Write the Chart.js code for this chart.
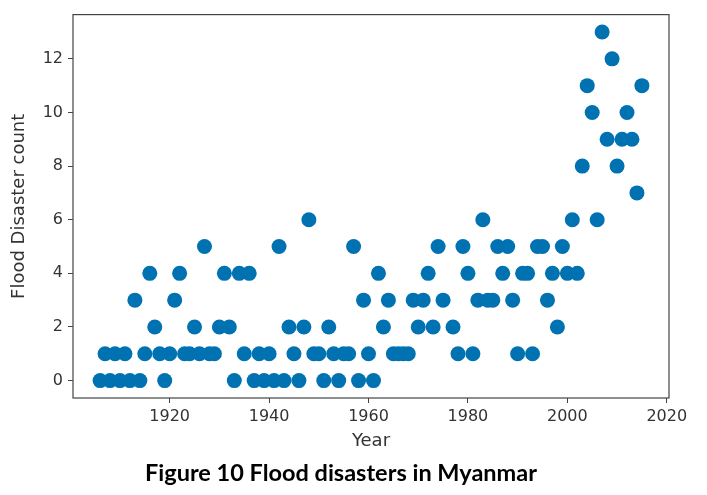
<!DOCTYPE html>
<html>
<head>
<meta charset="utf-8">
<script src="https://cdn.jsdelivr.net/npm/chart.js@4.4.0/dist/chart.umd.min.js"></script>
<style>
body{margin:0;background:#fff;}
#wrap{position:relative;width:707px;height:495px;}
#caption{position:absolute;left:0;width:682px;top:458px;text-align:center;font:bold 23.5px Lato, sans-serif;color:#000;}
</style>
</head>
<body>
<div id="wrap">
<canvas id="myChart" width="707" height="495"></canvas>
<div id="caption">Figure 10 Flood disasters in Myanmar</div>
</div>
<script>
// values, one point per year (1976 not shown)
const years = [
  1906,1907,1908,1909,1910,1911,1912,1913,1914,1915,
  1916,1917,1918,1919,1920,1921,1922,1923,1924,1925,
  1926,1927,1928,1929,1930,1931,1932,1933,1934,1935,
  1936,1937,1938,1939,1940,1941,1942,1943,1944,1945,
  1946,1947,1948,1949,1950,1951,1952,1953,1954,1955,
  1956,1957,1958,1959,1960,1961,1962,1963,1964,1965,
  1966,1967,1968,1969,1970,1971,1972,1973,1974,1975,
  1977,1978,1979,1980,1981,1982,1983,1984,1985,1986,
  1987,1988,1989,1990,1991,1992,1993,1994,1995,1996,
  1997,1998,1999,2000,2001,2002,2003,2004,2005,2006,
  2007,2008,2009,2010,2011,2012,2013,2014,2015
]
const floodCounts = [
  0,1,0,1,0,1,0,3,0,1,
  4,2,1,0,1,3,4,1,1,2,
  1,5,1,1,2,4,2,0,4,1,
  4,0,1,0,1,0,5,0,2,1,
  0,2,6,1,1,0,2,1,0,1,
  1,5,0,3,1,0,4,2,3,1,
  1,1,1,3,2,3,4,2,5,3,
  2,1,5,4,1,3,6,3,3,5,
  4,5,3,1,4,4,1,5,5,3,
  4,2,5,4,6,4,8,11,10,6,
  13,9,12,8,9,10,9,7,11
]
const xTicks = [1920, 1940, 1960, 1980, 2000, 2020]
const yTicks = [0, 2, 4, 6, 8, 10, 12]

const ctx = document.getElementById('myChart').getContext('2d')

// matplotlib style box around the plot
const frame = {
  id: 'frame',
  afterDraw(chart) {
    const {ctx, chartArea: a} = chart
    ctx.save()
    ctx.strokeStyle = '#444'
    ctx.lineWidth = 1.2
    ctx.strokeRect(a.left, a.top, a.right - a.left, a.bottom - a.top)
    ctx.restore()
  }
}

const tickFont = {family: 'DejaVu Sans', size: 16}
const titleFont = {family: 'DejaVu Sans', size: 18}

const chart = new Chart(ctx, {
  type: 'scatter',
  data: {
    datasets: [{
      data: years.map((y, i) => ({x: y, y: floodCounts[i]})),
      backgroundColor: '#0072b2',
      borderWidth: 0,
      pointRadius: 7.5,
      pointHoverRadius: 7.5
    }]
  },
  options: {
    responsive: false,
    animation: false,
    layout: {padding: {left: 0, right: 38, top: 12, bottom: 37}},
    plugins: {legend: {display: false}, tooltip: {enabled: false}},
    scales: {
      x: {
        type: 'linear',
        min: 1900.55,
        max: 2020.45,
        afterBuildTicks: s => { s.ticks = xTicks.map(v => ({value: v})) },
        afterFit: s => { s.height = 60 },
        border: {display: false},
        grid: {drawOnChartArea: false, drawTicks: true, tickLength: 5, color: '#444'},
        ticks: {font: tickFont, color: '#333', padding: 4, maxRotation: 0, callback: v => String(v)},
        title: {display: true, text: 'Year', font: titleFont, color: '#333', padding: {top: 0, bottom: 6}}
      },
      y: {
        min: -0.65,
        max: 13.65,
        afterBuildTicks: s => { s.ticks = yTicks.map(v => ({value: v})) },
        afterFit: s => { s.width = 73 },
        border: {display: false},
        grid: {drawOnChartArea: false, drawTicks: true, tickLength: 5, color: '#444'},
        ticks: {font: tickFont, color: '#333', padding: 5},
        title: {display: true, text: 'Flood Disaster count', font: titleFont, color: '#333', padding: {top: 9, bottom: 0}}
      }
    }
  },
  plugins: [frame]
})
</script>
</body>
</html>
